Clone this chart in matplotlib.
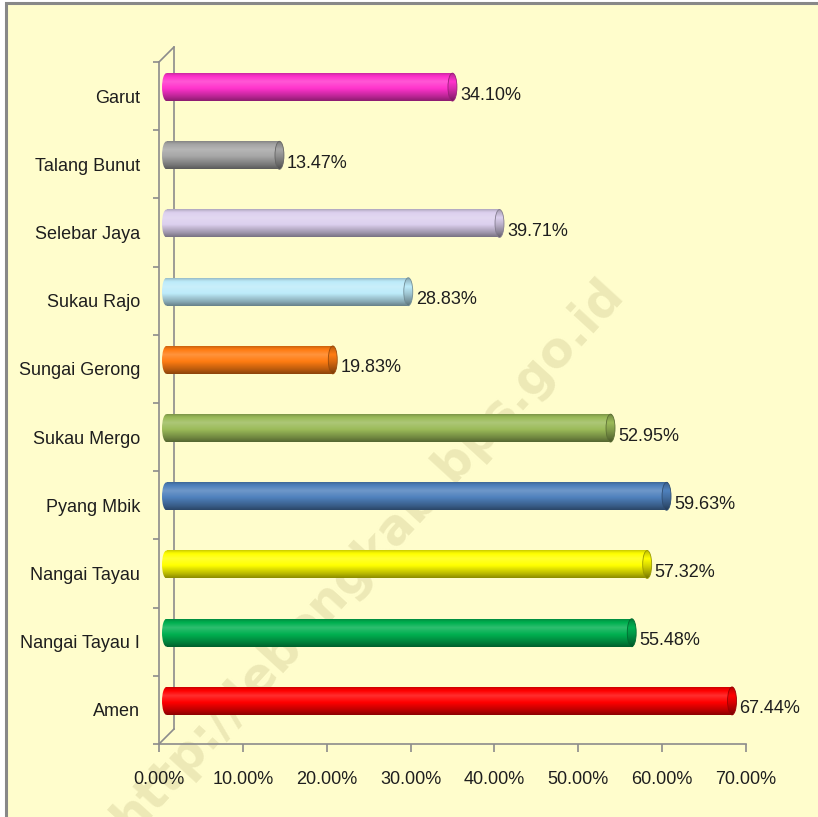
import numpy as np
import matplotlib
matplotlib.use('Agg')
import matplotlib.pyplot as plt
from matplotlib.patches import Ellipse, Rectangle, ConnectionPatch
from matplotlib.transforms import offset_copy

#------------------------------------------------------------------------------#
# data (bottom to top)
villages = ['Amen', 'Nangai Tayau I', 'Nangai Tayau', 'Pyang Mbik', 'Sukau Mergo',
            'Sungai Gerong', 'Sukau Rajo', 'Selebar Jaya', 'Talang Bunut', 'Garut']
values = [67.44, 55.48, 57.32, 59.63, 52.95, 19.83, 28.83, 39.71, 13.47, 34.10]
bar_colors = ['#FF0000', '#00B050', '#FFFF00', '#4F81BD', '#9BBB59',
              '#FF7C12', '#BDEBFA', '#DCD0EE', '#A6A6A6', '#FF33CC']
x_ticks = [0, 10, 20, 30, 40, 50, 60, 70]
watermark = 'http://lebongkab.bps.go.id'
#------------------------------------------------------------------------------#

plt.rcParams['font.family'] = ['Liberation Sans', 'DejaVu Sans']
TXT = '#1E1E1E'
AXC = '#8C8C8C'
BG = '#FFFDCC'
FS = 13


def shade_profile(base, n=60, factor=1.0):
    """vertical gradient that looks like a cylinder (top row first)"""
    rgb = np.array(matplotlib.colors.to_rgb(base))
    t = np.linspace(0, 1, n)
    s = np.interp(t, [0, 0.08, 0.3, 0.55, 0.85, 1.0],
                  [0.80, 0.95, 1.18, 1.0, 0.72, 0.55]) * factor
    out = []
    for v in s:
        if v > 1:
            out.append(rgb + (1 - rgb) * (v - 1))
        else:
            out.append(rgb * v)
    return np.clip(np.array(out), 0, 1).reshape(n, 1, 3)


fig = plt.figure(figsize=(8.18, 8.17), dpi=100, facecolor='white')
fig.patches.append(Rectangle((6 / 818, -0.1), 1.1, (817 - 3) / 817 + 0.1,
                             transform=fig.transFigure, facecolor=BG,
                             edgecolor='#888888', lw=2.2, zorder=-2))
fig.text(0.45, 0.32, watermark, rotation=47.6, rotation_mode='anchor',
         ha='center', va='center', fontsize=35, fontweight='bold',
         family='DejaVu Sans', color='#EDE9B6', zorder=-1)

ax = fig.add_axes([159 / 818, 73 / 817, 587 / 818, 682 / 817])
ax.set_facecolor('none')
ax.set_xlim(0, 70)
ax.set_ylim(-0.5, len(villages) - 0.5)

# back wall transform (depth offset) and bar transform (middle of depth)
back = offset_copy(ax.transData, fig=fig, x=15, y=15, units='dots')
mid = offset_copy(ax.transData, fig=fig, x=7.5, y=9, units='dots')

bh = 0.41
cap_w = 1.07
for i, (v, c) in enumerate(zip(values, bar_colors)):
    grad = shade_profile(c)
    ax.imshow(grad, extent=[0, v, i - bh / 2, i + bh / 2], origin='upper',
              aspect='auto', interpolation='bilinear', transform=mid, zorder=3)
    # rounded start
    im = ax.imshow(grad, extent=[-cap_w / 2, cap_w / 2, i - bh / 2, i + bh / 2],
                   origin='upper', aspect='auto', interpolation='bilinear',
                   transform=mid, zorder=3)
    e0 = Ellipse((0, i), cap_w, bh, transform=mid, facecolor='none', edgecolor='none')
    ax.add_patch(e0)
    im.set_clip_path(e0)
    # end cap
    im2 = ax.imshow(shade_profile(c, factor=0.85),
                    extent=[v - cap_w / 2, v + cap_w / 2, i - bh / 2, i + bh / 2],
                    origin='upper', aspect='auto', interpolation='bilinear',
                    transform=mid, zorder=4)
    e1 = Ellipse((v, i), cap_w, bh, transform=mid, facecolor='none',
                 edgecolor=np.array(matplotlib.colors.to_rgb(c)) * 0.6, lw=0.6, zorder=5)
    ax.add_patch(e1)
    im2.set_clip_path(e1)
    ax.text(v, i, f'{v:.2f}%', transform=offset_copy(ax.transData, fig=fig, x=15, y=1, units='dots'),
            ha='left', va='center', fontsize=FS, color=TXT, zorder=6)

# 3D axis frame
ax.plot([0, 0], [-0.5, len(villages) - 0.5], color=AXC, lw=1.2, transform=back,
        clip_on=False, zorder=2)
for yy in [-0.5, len(villages) - 0.5]:
    ax.add_artist(ConnectionPatch(xyA=(0, yy), coordsA=ax.transData, xyB=(0, yy),
                                  coordsB=back, color=AXC, lw=1.2, zorder=2))

for s in ['top', 'right']:
    ax.spines[s].set_visible(False)
for s in ['left', 'bottom']:
    ax.spines[s].set_color(AXC)
    ax.spines[s].set_linewidth(1.2)

ax.set_xticks(x_ticks)
ax.set_xticklabels([f'{t:.2f}%' for t in x_ticks])
ax.tick_params(axis='x', length=5.8, width=1.2, color=AXC, labelcolor=TXT,
               labelsize=FS, pad=14)
ax.set_yticks(range(len(villages)))
ax.set_yticklabels(villages)
ax.set_yticks(np.arange(-0.5, len(villages)), minor=True)
ax.tick_params(axis='y', which='major', length=0, pad=13.5, labelcolor=TXT, labelsize=FS)
ax.tick_params(axis='y', which='minor', length=4.3, width=1.2, color=AXC)

fig.savefig('out.png', dpi=100, facecolor=fig.get_facecolor())
